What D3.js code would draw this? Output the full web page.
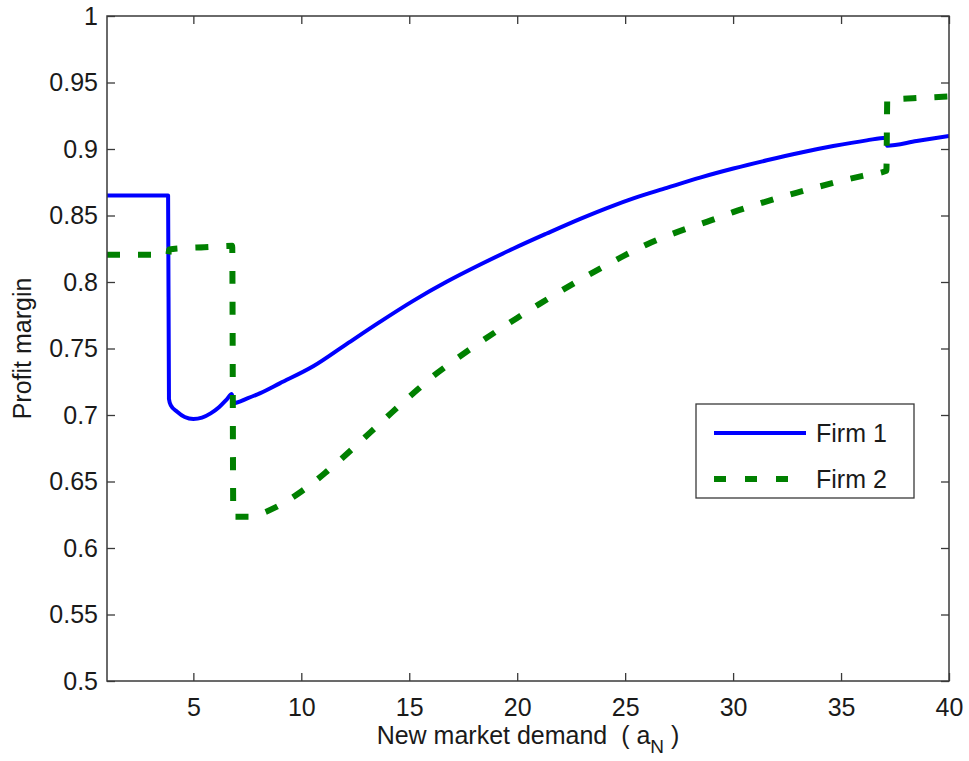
<!DOCTYPE html>
<html>
<head>
<meta charset="utf-8">
<script src="https://cdn.jsdelivr.net/npm/d3@7"></script>
<style>
    body { margin: 0; background: #fff; }
    svg { display: block; font-family: "Liberation Sans", Arial, sans-serif; }
</style>
</head>
<body>
<svg width="969" height="761"></svg>
<script>
// values
const firm1X = [1, 3.83, 3.87, 3.95, 4.25, 4.6, 5.0, 5.4, 5.8, 6.2, 6.55, 6.78, 6.88, 7.5, 8.1, 9.0,
    10.57, 12.11, 13.66, 15.2, 16.75, 18.29, 19.83, 21.37, 22.92, 24.46, 25.38, 26.93, 28.47, 30.01,
    31.56, 33.1, 34.64, 36.19, 37.08, 37.12, 38.5, 40];
const firm1Y = [0.865, 0.865, 0.712, 0.7075, 0.7025, 0.6985, 0.697, 0.698, 0.7012, 0.706, 0.7118, 0.7158, 0.709, 0.7125, 0.7165, 0.7238,
    0.7368, 0.7535, 0.7702, 0.786, 0.8003, 0.8131, 0.8252, 0.8365, 0.8475, 0.8575, 0.8629, 0.8708, 0.8785, 0.8853,
    0.8915, 0.8972, 0.9022, 0.9065, 0.9085, 0.9025, 0.906, 0.9097];

const firm2X = [1, 3.84, 3.88, 4.5, 5.5, 6.8, 6.85, 7.6, 8.2, 8.8, 9.4, 10.0, 10.6, 11.2, 11.8, 12.4, 13.0,
    13.6, 14.2, 14.8, 15.4, 16, 17, 18, 19, 20, 21, 22, 23, 24, 25, 26, 27, 28, 29, 30, 31, 32, 33, 34,
    35, 36, 37.1, 37.14, 38.5, 40];
const firm2Y = [0.8205, 0.8205, 0.8245, 0.8255, 0.8262, 0.8272, 0.6235, 0.6235, 0.6262, 0.6305, 0.636, 0.6425, 0.6497, 0.6578, 0.6662, 0.675, 0.684,
    0.693, 0.702, 0.7108, 0.7193, 0.7278, 0.74, 0.7515, 0.7625, 0.773, 0.7832, 0.793, 0.8025, 0.8115, 0.8202, 0.8282, 0.835, 0.8410, 0.8465, 0.8525, 0.8578, 0.8628, 0.8674, 0.8718,
    0.876, 0.8798, 0.8836, 0.937, 0.9383, 0.9395];

const xTicks = [5, 10, 15, 20, 25, 30, 35, 40];
const yTicks = [0.5, 0.55, 0.6, 0.65, 0.7, 0.75, 0.8, 0.85, 0.9, 0.95, 1];
const seriesNames = ["Firm 1", "Firm 2"];

const plotLeft = 107, plotRight = 949, plotTop = 16, plotBottom = 681;
const axisColor = "#3a3a3a";

const svg = d3.select("svg");

const x = d3.scaleLinear().domain([1, 40]).range([plotLeft, plotRight]);
const y = d3.scaleLinear().domain([0.5, 1]).range([plotBottom, plotTop]);

svg.append("clipPath").attr("id", "plot")
    .append("rect")
    .attr("x", plotLeft).attr("y", plotTop - 4)
    .attr("width", plotRight - plotLeft).attr("height", plotBottom - plotTop + 8);

// ticks pointing inward on all four sides
function styleAxis(g) {
    g.attr("font-family", null).attr("font-size", null);
    g.select(".domain").remove();
    g.selectAll(".tick line").attr("stroke", axisColor).attr("stroke-width", 1.3);
    g.selectAll(".tick text")
        .attr("fill", "#1a1a1a")
        .style("font-size", "25px");
}

svg.append("g")
    .attr("transform", `translate(0,${plotBottom})`)
    .call(d3.axisBottom(x).tickValues(xTicks).tickFormat(d3.format("d")).tickSizeInner(-8).tickSizeOuter(0).tickPadding(17))
    .call(styleAxis);

svg.append("g")
    .attr("transform", `translate(0,${plotTop})`)
    .call(d3.axisTop(x).tickValues(xTicks).tickFormat("").tickSizeInner(-8).tickSizeOuter(0))
    .call(styleAxis);

svg.append("g")
    .attr("transform", `translate(${plotLeft},0)`)
    .call(d3.axisLeft(y).tickValues(yTicks).tickFormat(d => String(+d.toFixed(2))).tickSizeInner(-8).tickSizeOuter(0).tickPadding(9))
    .call(styleAxis);

svg.append("g")
    .attr("transform", `translate(${plotRight},0)`)
    .call(d3.axisRight(y).tickValues(yTicks).tickFormat("").tickSizeInner(-8).tickSizeOuter(0))
    .call(styleAxis);

// lines
const line = d3.line()
    .curve(d3.curveMonotoneX)
    .x(d => x(d[0]))
    .y(d => y(d[1]));

const firm1 = firm1X.map((v, i) => [v, firm1Y[i]]);
const firm2 = firm2X.map((v, i) => [v, firm2Y[i]]);

const lines = svg.append("g").attr("clip-path", "url(#plot)");

lines.append("path")
    .datum(firm1)
    .attr("d", line)
    .attr("fill", "none")
    .attr("stroke", "#0000ff")
    .attr("stroke-width", 4)
    .attr("stroke-linejoin", "round");

lines.append("path")
    .datum(firm2)
    .attr("d", line)
    .attr("fill", "none")
    .attr("stroke", "#008000")
    .attr("stroke-width", 6)
    .attr("stroke-dasharray", "13,18");

// box
svg.append("rect")
    .attr("x", plotLeft).attr("y", plotTop)
    .attr("width", plotRight - plotLeft).attr("height", plotBottom - plotTop)
    .attr("fill", "none")
    .attr("stroke", axisColor)
    .attr("stroke-width", 1.5);

// labels
const xLabel = svg.append("text")
    .attr("x", (plotLeft + plotRight) / 2)
    .attr("y", 744)
    .attr("text-anchor", "middle")
    .attr("fill", "#1a1a1a")
    .style("white-space", "pre")
    .style("font-size", "25px");
xLabel.append("tspan").text("New market demand  ( a");
xLabel.append("tspan").attr("dy", 9).style("font-size", "19px").text("N");
xLabel.append("tspan").attr("dy", -9).text(" )");

svg.append("text")
    .attr("transform", `translate(31,${(plotTop + plotBottom) / 2}) rotate(-90)`)
    .attr("text-anchor", "middle")
    .attr("fill", "#1a1a1a")
    .style("font-size", "25px")
    .text("Profit margin");

// legend
const legend = svg.append("g");
legend.append("rect")
    .attr("x", 696).attr("y", 404)
    .attr("width", 218).attr("height", 94)
    .attr("fill", "#fff")
    .attr("stroke", axisColor)
    .attr("stroke-width", 1.3);

const legendRows = legend.selectAll("g.row")
    .data(seriesNames)
    .enter().append("g")
    .attr("class", "row")
    .attr("transform", (d, i) => `translate(0,${433 + i * 46})`);

legendRows.append("line")
    .attr("x1", 714).attr("x2", 806)
    .attr("stroke", (d, i) => i === 0 ? "#0000ff" : "#008000")
    .attr("stroke-width", (d, i) => i === 0 ? 4 : 6)
    .attr("stroke-dasharray", (d, i) => i === 0 ? null : "12,19");

legendRows.append("text")
    .attr("x", 816)
    .attr("dy", "0.35em")
    .attr("fill", "#1a1a1a")
    .style("font-size", "25px")
    .text(d => d);
</script>
</body>
</html>
